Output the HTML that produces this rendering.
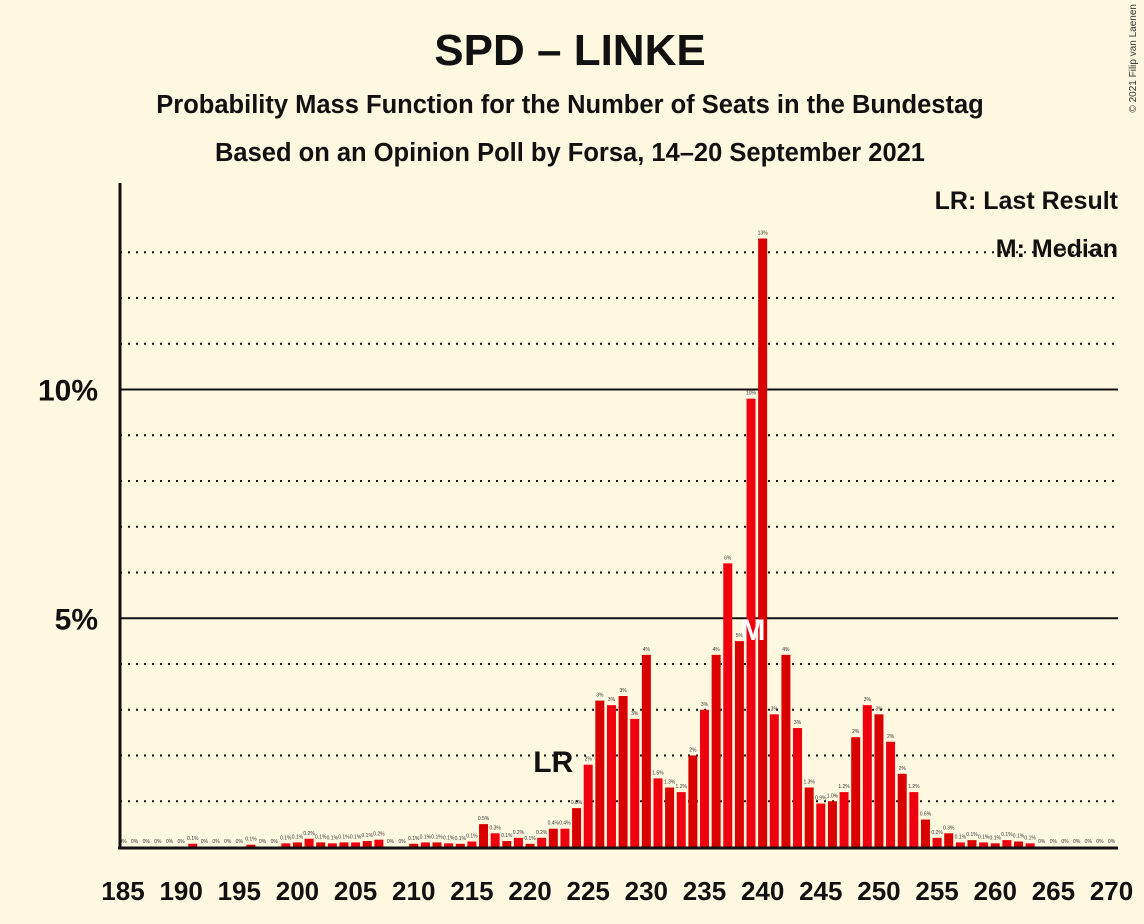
<!DOCTYPE html>
<html><head><meta charset="utf-8"><style>
body{margin:0;background:#fef8e0;}
svg{display:block;font-family:"Liberation Sans",sans-serif;}
</style></head><body>
<svg id="c" width="1144" height="924" viewBox="0 0 1144 924">
<rect width="1144" height="924" fill="#fef8e0"/>
<text x="570" y="65" text-anchor="middle" font-size="44" font-weight="bold" fill="#111">SPD – LINKE</text>
<text x="570" y="113" text-anchor="middle" font-size="25.5" font-weight="bold" fill="#111">Probability Mass Function for the Number of Seats in the Bundestag</text>
<text x="570" y="161" text-anchor="middle" font-size="25.5" font-weight="bold" fill="#111">Based on an Opinion Poll by Forsa, 14–20 September 2021</text>
<text x="1118" y="209" text-anchor="end" font-size="25" font-weight="bold" fill="#111">LR: Last Result</text>
<text x="1118" y="257" text-anchor="end" font-size="25" font-weight="bold" fill="#111">M: Median</text>
<text transform="translate(1136,4) rotate(-90)" text-anchor="end" font-size="10" fill="#333">© 2021 Filip van Laenen</text>
<g id="grid"></g><g id="bars"></g><g id="axes"></g>
</svg>
<script>
const seats=[];for(let s=185;s<=270;s++)seats.push(s);
const probs=[0,0,0,0,0,0,0.07,0,0,0,0,0.05,0,0,0.08,0.1,0.18,0.1,0.08,0.1,0.1,0.13,0.16,0,0,0.07,0.1,0.1,0.08,0.07,0.12,0.5,0.3,0.13,0.2,0.07,0.2,0.4,0.4,0.85,1.8,3.2,3.1,3.3,2.8,4.2,1.5,1.3,1.2,2.0,3.0,4.2,6.2,4.5,9.8,13.3,2.9,4.2,2.6,1.3,0.95,1.0,1.2,2.4,3.1,2.9,2.3,1.6,1.2,0.6,0.2,0.3,0.1,0.15,0.1,0.08,0.15,0.12,0.08,0,0,0,0,0,0,0,0];
const xTicks=[185,190,195,200,205,210,215,220,225,230,235,240,245,250,255,260,265,270];
const yTicks=[5,10];
const lastResult=222, median=239;
const NS='http://www.w3.org/2000/svg';
const X=s=>123+(s-185)*11.63, Y=v=>847-v*45.75;
function mk(t,a,p){const e=document.createElementNS(NS,t);for(const k in a)e.setAttribute(k,a[k]);document.getElementById(p).appendChild(e);return e;}
for(let v=1;v<=13;v++){const g=mk('line',{x1:120,x2:1118,y1:Y(v),y2:Y(v),stroke:'#111','stroke-width':2,'stroke-dasharray':v%5?'2,6':'none'},'grid');

}
yTicks.forEach(v=>{const t=mk('text',{x:98,y:Y(v)+11,'text-anchor':'end','font-size':30,'font-weight':'bold',fill:'#111'},'axes');t.textContent=v+'%';

});
function fmt(v){if(v<0.05)return '0%';if(v<1.55)return v.toFixed(1)+'%';return Math.round(v)+'%';}
seats.forEach((s,i)=>{const v=probs[i];const x=X(s);
if(v>0){const r=mk('rect',{x:x-4.5,y:Y(v),width:9,height:847-Y(v),fill:i%2?'#d90000':'#f0000f'},'bars');

}
const t=mk('text',{x:x,y:Y(v)-4,'text-anchor':'middle','font-size':5,fill:'#333'},'bars');t.textContent=fmt(v);

});
xTicks.forEach(s=>{const t=mk('text',{x:X(s),y:900,'text-anchor':'middle','font-size':26,'font-weight':'bold',fill:'#111'},'axes');t.textContent=s;

});
const lr=mk('text',{x:X(lastResult),y:772,'text-anchor':'middle','font-size':30,'font-weight':'bold',fill:'#111'},'axes');lr.textContent='LR';


const m=mk('text',{x:X(median)+2,y:640,'text-anchor':'middle','font-size':30,'font-weight':'bold',fill:'#fff'},'axes');m.textContent='M';


const ya=mk('line',{x1:120,x2:120,y1:183,y2:849,stroke:'#111','stroke-width':3},'axes');


const xa=mk('line',{x1:118,x2:1118,y1:848,y2:848,stroke:'#111','stroke-width':3},'axes');


</script>
</body></html>
